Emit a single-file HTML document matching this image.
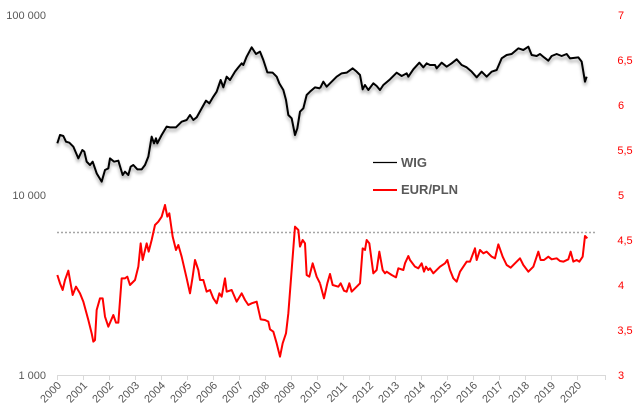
<!DOCTYPE html>
<html><head><meta charset="utf-8"><style>
html,body{margin:0;padding:0;background:#fff;}
svg{display:block;font-family:"Liberation Sans",sans-serif;}
</style></head><body>
<svg width="644" height="417" viewBox="0 0 644 417" xmlns="http://www.w3.org/2000/svg">
<defs>
<filter id="sh" x="-5%" y="-5%" width="110%" height="120%">
<feDropShadow dx="0" dy="3" stdDeviation="1.5" flood-color="#000" flood-opacity="0.35"/>
</filter>
</defs>
<rect width="644" height="417" fill="#fff"/>
<line x1="57.5" y1="375.5" x2="605.5" y2="375.5" stroke="#d9d9d9" stroke-width="1"/>
<g stroke="#d9d9d9" stroke-width="1">
<line x1="57.5" y1="375" x2="57.5" y2="380"/><line x1="83.5" y1="375" x2="83.5" y2="380"/><line x1="109.5" y1="375" x2="109.5" y2="380"/><line x1="135.5" y1="375" x2="135.5" y2="380"/><line x1="161.5" y1="375" x2="161.5" y2="380"/><line x1="187.5" y1="375" x2="187.5" y2="380"/><line x1="213.5" y1="375" x2="213.5" y2="380"/><line x1="239.5" y1="375" x2="239.5" y2="380"/><line x1="265.5" y1="375" x2="265.5" y2="380"/><line x1="291.5" y1="375" x2="291.5" y2="380"/><line x1="317.5" y1="375" x2="317.5" y2="380"/><line x1="343.5" y1="375" x2="343.5" y2="380"/><line x1="369.5" y1="375" x2="369.5" y2="380"/><line x1="395.5" y1="375" x2="395.5" y2="380"/><line x1="421.5" y1="375" x2="421.5" y2="380"/><line x1="447.5" y1="375" x2="447.5" y2="380"/><line x1="473.5" y1="375" x2="473.5" y2="380"/><line x1="499.5" y1="375" x2="499.5" y2="380"/><line x1="525.5" y1="375" x2="525.5" y2="380"/><line x1="551.5" y1="375" x2="551.5" y2="380"/><line x1="577.5" y1="375" x2="577.5" y2="380"/><line x1="605.5" y1="375" x2="605.5" y2="380"/>
</g>
<g fill="#595959" font-size="11" text-anchor="end">
<text x="46" y="19">100 000</text>
<text x="46" y="199">10 000</text>
<text x="46" y="379">1 000</text>
</g>
<g fill="#ff0000" font-size="11" text-anchor="middle">
<text x="621" y="19">7</text><text x="625" y="64">6,5</text><text x="621" y="109">6</text><text x="625" y="154">5,5</text><text x="621" y="199">5</text><text x="625" y="244">4,5</text><text x="621" y="289">4</text><text x="625" y="334">3,5</text><text x="621" y="379">3</text>
</g>
<g fill="#595959" font-size="11" text-anchor="end">
<text transform="translate(62,386) rotate(-45)">2000</text>
<text transform="translate(88,386) rotate(-45)">2001</text>
<text transform="translate(114,386) rotate(-45)">2002</text>
<text transform="translate(140,386) rotate(-45)">2003</text>
<text transform="translate(166,386) rotate(-45)">2004</text>
<text transform="translate(192,386) rotate(-45)">2005</text>
<text transform="translate(218,386) rotate(-45)">2006</text>
<text transform="translate(244,386) rotate(-45)">2007</text>
<text transform="translate(270,386) rotate(-45)">2008</text>
<text transform="translate(296,386) rotate(-45)">2009</text>
<text transform="translate(322,386) rotate(-45)">2010</text>
<text transform="translate(348,386) rotate(-45)">2011</text>
<text transform="translate(374,386) rotate(-45)">2012</text>
<text transform="translate(400,386) rotate(-45)">2013</text>
<text transform="translate(426,386) rotate(-45)">2014</text>
<text transform="translate(452,386) rotate(-45)">2015</text>
<text transform="translate(478,386) rotate(-45)">2016</text>
<text transform="translate(504,386) rotate(-45)">2017</text>
<text transform="translate(530,386) rotate(-45)">2018</text>
<text transform="translate(556,386) rotate(-45)">2019</text>
<text transform="translate(582,386) rotate(-45)">2020</text>
</g>
<line x1="57" y1="232.5" x2="595" y2="232.5" stroke="#a6a6a6" stroke-width="1.5" stroke-dasharray="2,2"/>
<g filter="url(#sh)" fill="none" stroke="#000" stroke-width="2" stroke-linejoin="round">
<g transform="translate(50,30) scale(0.33333)">
<polyline vector-effect="non-scaling-stroke" points="22,340 30,315 40,318 48,335 58,338 70,350 85,385 97,360 103,365 110,395 120,405 128,395 140,430 155,455 165,420 175,415 180,385 192,395 205,392 218,435 225,425 235,435 242,410 250,405 262,418 275,418 285,405 295,380 305,320 312,340 318,325 322,340 335,315 350,290 360,292 378,292 395,275 410,270 420,255 430,270 440,262 455,235 468,212 478,220 490,200 500,185 512,150 520,172 530,140 540,150 555,125 565,112 575,100 580,105 590,80 605,52 618,72 630,65 640,90 652,127 668,128 680,140 688,160 700,180 708,210 715,255 725,265 735,315 742,295 750,245 760,235 770,195 780,185 795,172 810,175"/>
</g>
<g transform="translate(320,30) scale(0.33333)">
<polyline vector-effect="non-scaling-stroke" points="0,175 10,155 20,170 35,155 50,140 65,130 80,128 98,115 110,125 120,135 128,178 135,165 145,180 160,160 170,168 180,180 190,165 210,148 230,128 245,138 260,130 265,140 280,118 298,98 310,112 320,100 330,105 345,105 350,115 365,98 380,110 395,100 410,88 425,105 440,112 455,125 470,142 485,125 500,140 515,125 530,120 545,85 560,75 575,72 595,55 610,60 625,50 635,75 650,78 660,72 672,82 685,92 695,78 710,72 725,78 740,72 750,85 775,82 785,95 795,155 800,140"/>
</g>
</g>
<g fill="none" stroke="#ff0000" stroke-width="2" stroke-linejoin="round">
<g transform="translate(50,30) scale(0.33333)">
<polyline vector-effect="non-scaling-stroke" points="22,735 30,760 38,780 45,750 55,722 68,795 78,770 90,790 100,815 115,870 125,910 130,935 135,930 140,840 150,805 158,805 165,860 175,890 190,855 198,878 205,878 215,745 225,745 232,740 240,765 255,750 265,710 272,640 278,690 290,640 296,665 305,630 315,585 325,575 335,560 345,525 352,560 358,550 368,620 378,660 385,645 395,680 410,745 420,790 428,740 435,690 445,720 450,750 460,750 470,785 480,780 490,805 500,820 508,790 515,800 525,745 530,785 545,780 560,815 575,790 585,810 595,825 605,820 620,815 632,868 645,870 655,875 660,898 670,905 680,940 690,980 698,940 708,910 715,850 725,720 735,590 745,600 750,650 758,630 765,640 770,735 778,740 788,700 800,740 810,760"/>
</g>
<g transform="translate(320,30) scale(0.33333)">
<polyline vector-effect="non-scaling-stroke" points="0,760 12,805 22,760 30,732 38,765 55,770 62,760 72,782 80,785 88,760 95,785 110,770 120,760 128,655 135,660 140,630 148,640 160,730 170,720 178,665 188,720 195,730 200,725 215,735 228,742 235,715 250,720 255,700 265,678 270,690 285,710 295,715 305,700 312,725 318,710 325,720 330,715 340,730 352,718 360,710 375,700 382,690 390,720 400,745 410,755 420,725 430,710 440,695 450,695 465,655 470,690 480,660 490,670 500,665 515,680 525,685 535,643 548,680 560,705 572,713 585,700 600,685 610,705 625,725 640,710 655,665 662,690 672,690 685,680 695,688 710,685 720,693 730,695 745,688 752,665 760,695 770,690 778,695 788,680 795,618 802,625"/>
</g>
</g>
<line x1="373" y1="162.5" x2="397" y2="162.5" stroke="#000" stroke-width="1.2"/>
<text x="401" y="167" fill="#595959" font-size="13" font-weight="bold">WIG</text>
<line x1="373" y1="190" x2="397" y2="190" stroke="#ff0000" stroke-width="2"/>
<text x="401" y="194" fill="#595959" font-size="13" font-weight="bold">EUR/PLN</text>
</svg>
</body></html>
